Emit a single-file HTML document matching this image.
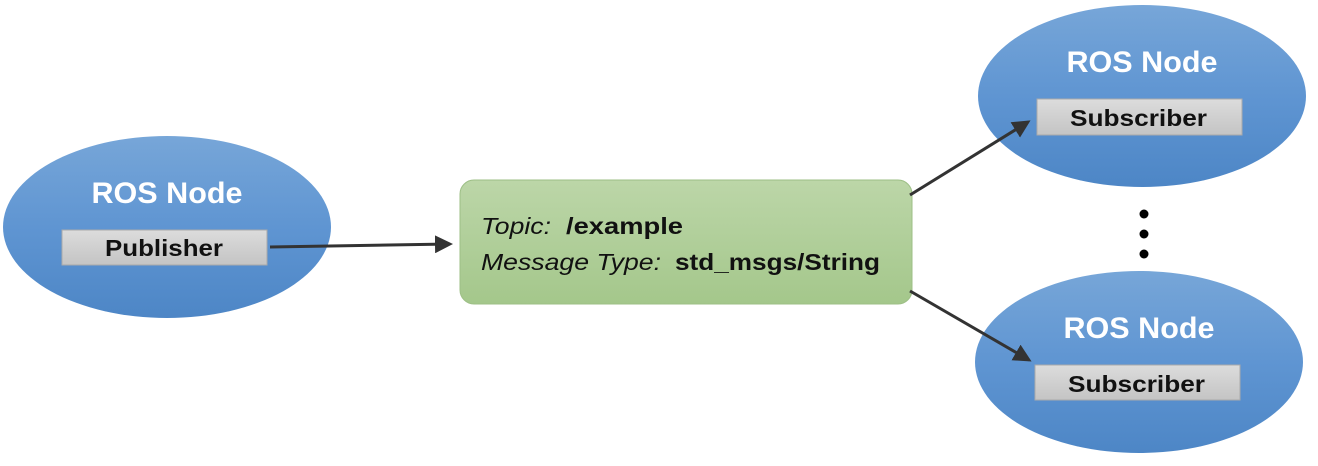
<!DOCTYPE html>
<html><head><meta charset="utf-8"><style>html,body{margin:0;padding:0;background:#fff}svg{display:block}</style></head>
<body>
<svg width="1318" height="466" viewBox="0 0 1318 466" xmlns="http://www.w3.org/2000/svg" font-family="Liberation Sans, sans-serif">
<defs>
<linearGradient id="bl" x1="0" y1="0" x2="0" y2="1"><stop offset="0" stop-color="#77a6d8"/><stop offset="0.5" stop-color="#5f95d2"/><stop offset="1" stop-color="#4d86c6"/></linearGradient>
<linearGradient id="gr" x1="0" y1="0" x2="0" y2="1"><stop offset="0" stop-color="#bcd6a8"/><stop offset="1" stop-color="#a4c78b"/></linearGradient>
<linearGradient id="gy" x1="0" y1="0" x2="0" y2="1"><stop offset="0" stop-color="#dcdcdc"/><stop offset="1" stop-color="#c4c4c4"/></linearGradient>
<marker id="ah" markerWidth="6" markerHeight="6" refX="5" refY="3" orient="auto" markerUnits="strokeWidth"><path d="M0,0 L6,3 L0,6 z" fill="#333"/></marker>
</defs>
<ellipse cx="167" cy="227" rx="164" ry="91" fill="url(#bl)"/>
<ellipse cx="1142" cy="96" rx="164" ry="91" fill="url(#bl)"/>
<ellipse cx="1139" cy="362" rx="164" ry="91" fill="url(#bl)"/>
<g font-weight="bold" font-size="30" fill="#fff" text-anchor="middle">
<text x="167" y="203" textLength="151" lengthAdjust="spacingAndGlyphs">ROS Node</text>
<text x="1142" y="72" textLength="151" lengthAdjust="spacingAndGlyphs">ROS Node</text>
<text x="1139" y="338" textLength="151" lengthAdjust="spacingAndGlyphs">ROS Node</text>
</g>
<rect x="62" y="230" width="205" height="35" fill="url(#gy)" stroke="#aaa"/>
<rect x="1037" y="99" width="205" height="36" fill="url(#gy)" stroke="#aaa"/>
<rect x="1035" y="365" width="205" height="35" fill="url(#gy)" stroke="#aaa"/>
<g font-weight="bold" font-size="23" fill="#111">
<text x="105" y="256" textLength="118" lengthAdjust="spacingAndGlyphs">Publisher</text>
<text x="1070" y="126" textLength="137" lengthAdjust="spacingAndGlyphs">Subscriber</text>
<text x="1068" y="392" textLength="137" lengthAdjust="spacingAndGlyphs">Subscriber</text>
</g>
<rect x="460" y="180" width="452" height="124" rx="14" fill="url(#gr)" stroke="#9dbf86"/>
<g font-size="23" fill="#111">
<text x="481" y="234" font-style="italic" textLength="70" lengthAdjust="spacingAndGlyphs">Topic:</text>
<text x="566" y="234" font-weight="bold" textLength="117" lengthAdjust="spacingAndGlyphs">/example</text>
<text x="481" y="270" font-style="italic" textLength="180" lengthAdjust="spacingAndGlyphs">Message Type:</text>
<text x="675" y="270" font-weight="bold" textLength="205" lengthAdjust="spacingAndGlyphs">std_msgs/String</text>
</g>
<g stroke="#333" stroke-width="3" fill="none">
<line x1="270" y1="247" x2="450" y2="244" marker-end="url(#ah)"/>
<line x1="910" y1="195" x2="1028" y2="122" marker-end="url(#ah)"/>
<line x1="910" y1="291" x2="1029" y2="360" marker-end="url(#ah)"/>
</g>
<g fill="#000"><circle cx="1144" cy="214" r="4.5"/><circle cx="1144" cy="234" r="4.5"/><circle cx="1144" cy="254" r="4.5"/></g>
</svg>
</body></html>
